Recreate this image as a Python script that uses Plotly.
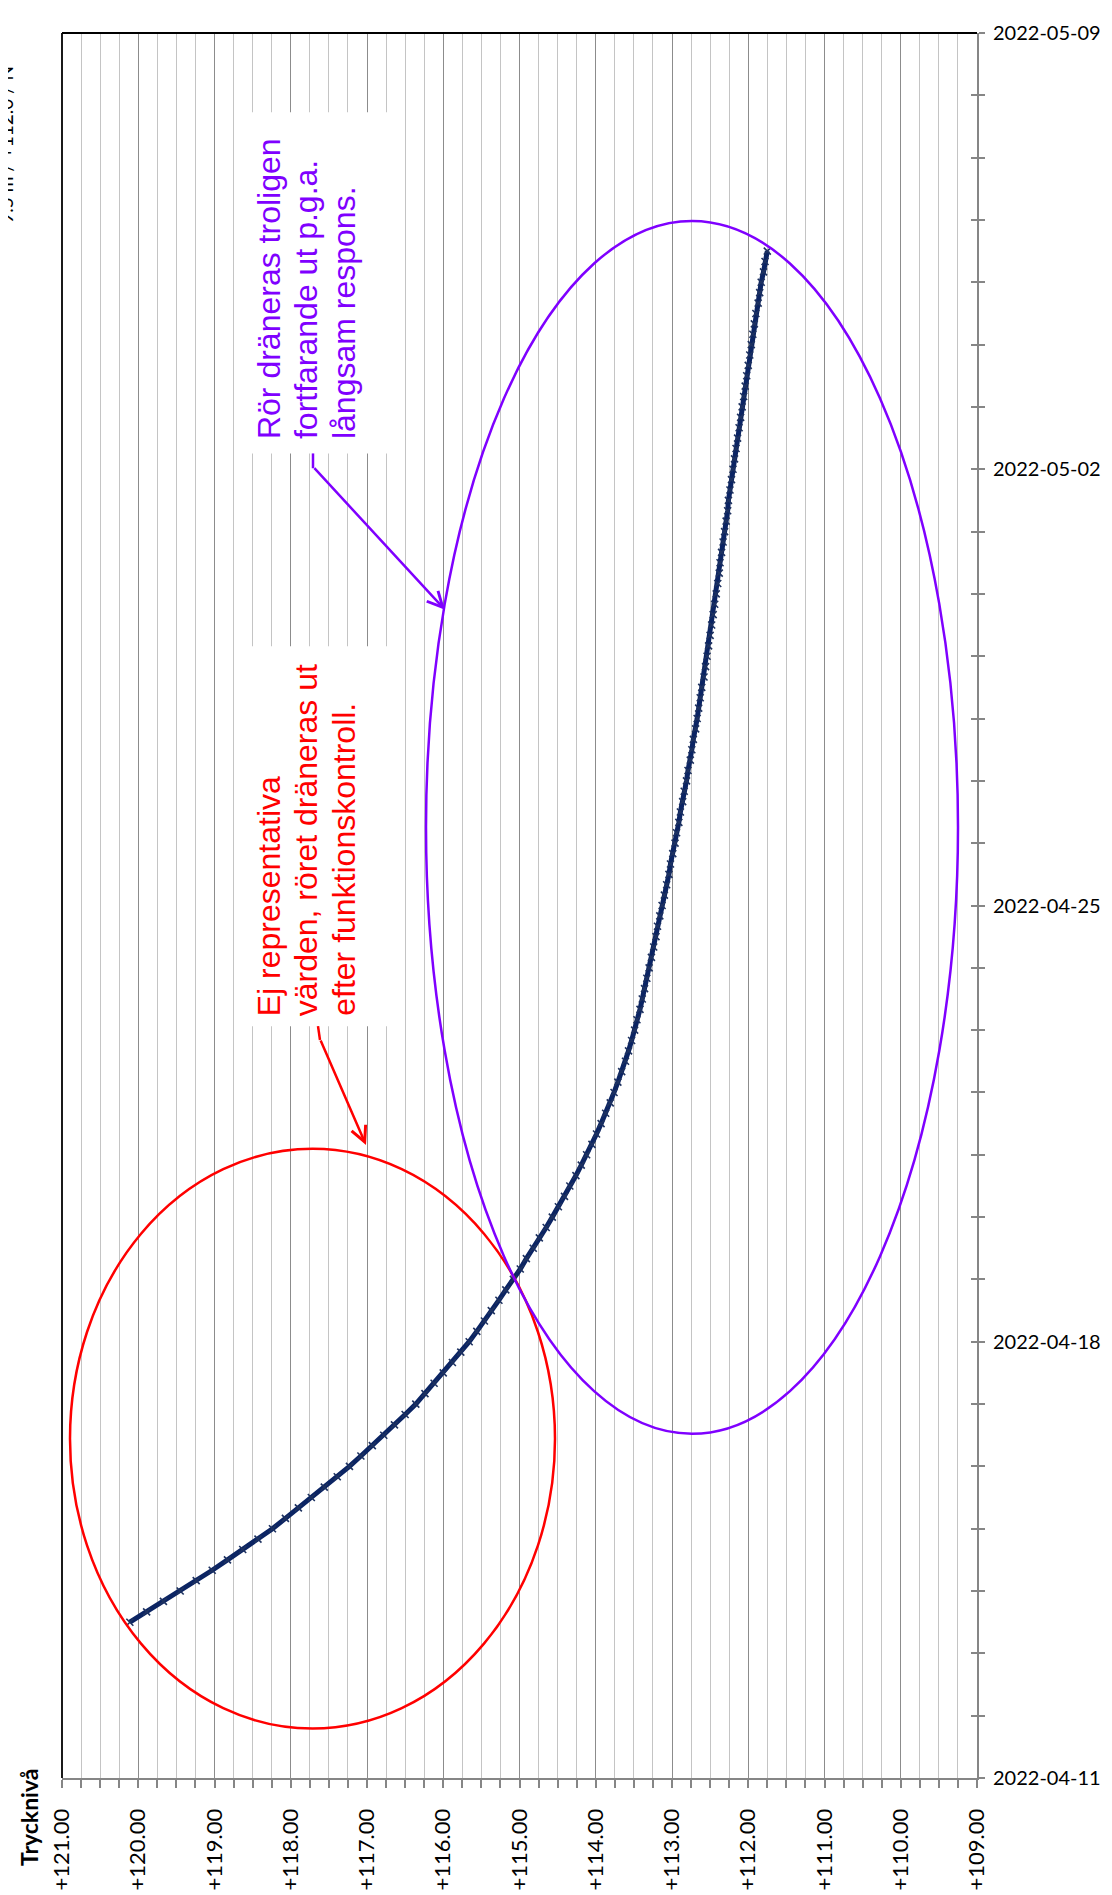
import plotly.graph_objects as go
import pandas as pd

# ---------------- data ----------------
# Trycknivå readings every 4 hours, starting 2022-04-13 12:00
values = [
    120.11, 119.89, 119.67, 119.45,
    119.24, 119.03, 118.83, 118.63, 118.43, 118.24,
    118.07, 117.90, 117.73, 117.56, 117.39, 117.23,
    117.08, 116.93, 116.78, 116.64, 116.50, 116.36,
    116.24, 116.12, 116.00, 115.88, 115.77, 115.66,
    115.56, 115.46, 115.37, 115.27, 115.18, 115.08,
    114.99, 114.91, 114.82, 114.74, 114.65, 114.57,
    114.49, 114.41, 114.34, 114.26, 114.19, 114.12,
    114.05, 113.99, 113.93, 113.87, 113.81, 113.76,
    113.71, 113.66, 113.61, 113.57, 113.53, 113.49,
    113.46, 113.42, 113.39, 113.36, 113.33, 113.30,
    113.27, 113.24, 113.21, 113.19, 113.16, 113.13,
    113.10, 113.07, 113.04, 113.02, 112.99, 112.96,
    112.94, 112.91, 112.89, 112.86, 112.84, 112.81,
    112.79, 112.76, 112.74, 112.72, 112.69, 112.67,
    112.65, 112.63, 112.61, 112.58, 112.56, 112.54,
    112.52, 112.50, 112.48, 112.46, 112.44, 112.42,
    112.40, 112.38, 112.37, 112.35, 112.33, 112.31,
    112.29, 112.27, 112.26, 112.24, 112.22, 112.20,
    112.18, 112.16, 112.14, 112.12, 112.10, 112.08,
    112.06, 112.04, 112.02, 112.00, 111.98, 111.96,
    111.94, 111.92, 111.90, 111.87, 111.85, 111.83,
    111.80, 111.78, 111.75,
]
start_time = "2022-04-13 12:00"
sample_step = "4h"
times = pd.date_range(start_time, periods=len(values), freq=sample_step)

value_range = [121, 109]
value_ticks = [121, 120, 119, 118, 117, 116, 115, 114, 113, 112, 111, 110, 109]
value_ticktext = [f"{v:+.2f}" for v in value_ticks]
date_range = ["2022-04-11", "2022-05-09"]
date_tick0 = "2022-04-11"

axis_title = "Trycknivå"
partial_title = "9.5 m / +112.0 / N"
red_lines = ["Ej representativa", "värden, röret dräneras ut", "efter funktionskontroll."]
purple_lines = ["Rör dräneras troligen", "fortfarande ut p.g.a.", "långsam respons."]

# ---------------- layout geometry (pixels) ----------------
FIG_W, FIG_H = 1112, 1895
L, R, T, B = 54, 969, 18, 1782
PW, PH = R - L, B - T


def px(x):
    return (x - L) / PW


def py(y):
    return (B - y) / PH


DAY = 86400000
GRAY = "#868686"
RED = "#FF0000"
PURPLE = "#7F00FF"
TEXT_FONT = "Liberation Sans, Arial, sans-serif"
TICK_FONT = "Lato, sans-serif"

fig = go.Figure()
fig.add_trace(go.Scatter(
    x=values, y=times, mode="lines+markers",
    line=dict(color="#0b2463", width=5),
    marker=dict(symbol="x-thin", size=7, line=dict(width=1.6, color="#1e3260")),
    showlegend=False, hoverinfo="skip",
))
fig.add_trace(go.Scatter(x=[None], y=[None], yaxis="y2", showlegend=False, hoverinfo="skip"))

shapes = []
annotations = []

# white text boxes
shapes.append(dict(type="rect", xref="paper", yref="paper", x0=px(240), x1=px(388),
                   y0=py(443), y1=py(98), fillcolor="white", line=dict(width=0), layer="above"))
shapes.append(dict(type="rect", xref="paper", yref="paper", x0=px(237), x1=px(388),
                   y0=py(1022), y1=py(638), fillcolor="white", line=dict(width=0), layer="above"))

# frame (top and left border in black)
shapes.append(dict(type="line", xref="paper", yref="paper", x0=0, x1=1, y0=1, y1=1,
                   line=dict(color="black", width=1.8), layer="above"))
shapes.append(dict(type="line", xref="paper", yref="paper", x0=0, x1=0, y0=0, y1=1,
                   line=dict(color="black", width=1.8), layer="above"))

# ellipses
shapes.append(dict(type="circle", xref="paper", yref="paper", x0=px(62), x1=px(547),
                   y0=py(1732), y1=py(1146), line=dict(color=RED, width=2.5), layer="above"))
shapes.append(dict(type="circle", xref="paper", yref="paper", x0=px(418), x1=px(950),
                   y0=py(1434), y1=py(208), line=dict(color=PURPLE, width=2.5), layer="above"))

# leader elbows
shapes.append(dict(type="line", xref="paper", yref="paper", x0=px(305), x1=px(305),
                   y0=py(443), y1=py(458), line=dict(color=PURPLE, width=2.5), layer="above"))
shapes.append(dict(type="line", xref="paper", yref="paper", x0=px(310), x1=px(312),
                   y0=py(1022), y1=py(1036), line=dict(color=RED, width=2.5), layer="above"))

# arrows
annotations.append(dict(xref="paper", yref="paper", x=px(437), y=py(601), text="",
                        showarrow=True, ax=305 - 437, ay=458 - 601, arrowhead=5,
                        arrowsize=1.2, arrowwidth=2.5, arrowcolor=PURPLE))
annotations.append(dict(xref="paper", yref="paper", x=px(358), y=py(1142), text="",
                        showarrow=True, ax=312 - 358, ay=1036 - 1142, arrowhead=5,
                        arrowsize=1.2, arrowwidth=2.5, arrowcolor=RED))

# callout texts (one annotation per line)
line_centers = [261, 298, 336]
for txt, cx in zip(purple_lines, line_centers):
    annotations.append(dict(xref="paper", yref="paper", x=px(cx), y=py(430), text=txt,
                            textangle=-90, xanchor="center", yanchor="bottom", showarrow=False,
                            borderpad=0, font=dict(family=TEXT_FONT, size=32, color=PURPLE)))
for txt, cx in zip(red_lines, line_centers):
    annotations.append(dict(xref="paper", yref="paper", x=px(cx), y=py(1013), text=txt,
                            textangle=-90, xanchor="center", yanchor="bottom", showarrow=False,
                            borderpad=0, font=dict(family=TEXT_FONT, size=32, color=RED)))

# axis title (centre-anchored so the rotation cannot shift it)
annotations.append(dict(xref="paper", yref="paper", x=px(20.5), y=py(1822), text=axis_title,
                        textangle=-90, xanchor="center", yanchor="middle", showarrow=False,
                        borderpad=0, font=dict(family=TICK_FONT, size=23, color="black", weight="bold")))
# partially clipped title at the top-left corner
annotations.append(dict(xref="paper", yref="paper", x=px(-2), y=py(50), text=partial_title,
                        textangle=-90, xanchor="center", yanchor="top", showarrow=False,
                        borderpad=0, font=dict(family=TICK_FONT, size=19, color="black")))

fig.update_layout(
    width=FIG_W, height=FIG_H, autosize=False,
    margin=dict(l=L, r=FIG_W - R, t=T, b=FIG_H - B, pad=0),
    paper_bgcolor="white", plot_bgcolor="white",
    showlegend=False,
    xaxis=dict(
        range=value_range, tickmode="array", tickvals=value_ticks, ticktext=value_ticktext,
        tickangle=-90,
        ticks="outside", ticklen=8, tickwidth=1.5, tickcolor=GRAY,
        showline=True, linecolor=GRAY, linewidth=2,
        showgrid=True, gridcolor="#8c8c8c", gridwidth=1.3, zeroline=False,
        minor=dict(tickmode="linear", tick0=109, dtick=0.25, ticks="outside", ticklen=8, tickwidth=1.5,
                   tickcolor=GRAY, showgrid=True, gridcolor="#c4c4c4", gridwidth=1.3),
        tickfont=dict(family=TICK_FONT, size=22, color="black"),
        ticklabelstandoff=12,
    ),
    yaxis=dict(
        type="date", range=date_range, side="right", tick0=date_tick0, dtick=7 * DAY,
        tickformat="%Y-%m-%d",
        ticks="outside", ticklen=6, tickwidth=1.5, tickcolor=GRAY,
        showline=True, linecolor=GRAY, linewidth=2, showgrid=False, zeroline=False,
        minor=dict(dtick=DAY, ticks="outside", ticklen=6, tickwidth=1.5, tickcolor=GRAY, showgrid=False),
        tickfont=dict(family=TICK_FONT, size=20, color="black"),
        ticklabelstandoff=4,
    ),
    yaxis2=dict(
        type="date", range=date_range, side="right", overlaying="y", anchor="x",
        tick0=date_tick0, dtick=7 * DAY,
        ticks="inside", ticklen=6, tickwidth=1.5, tickcolor=GRAY,
        showticklabels=False, showline=False, showgrid=False, zeroline=False,
        minor=dict(dtick=DAY, ticks="inside", ticklen=6, tickwidth=1.5, tickcolor=GRAY, showgrid=False),
    ),
    shapes=shapes,
    annotations=annotations,
)

fig.write_html("out.html")
